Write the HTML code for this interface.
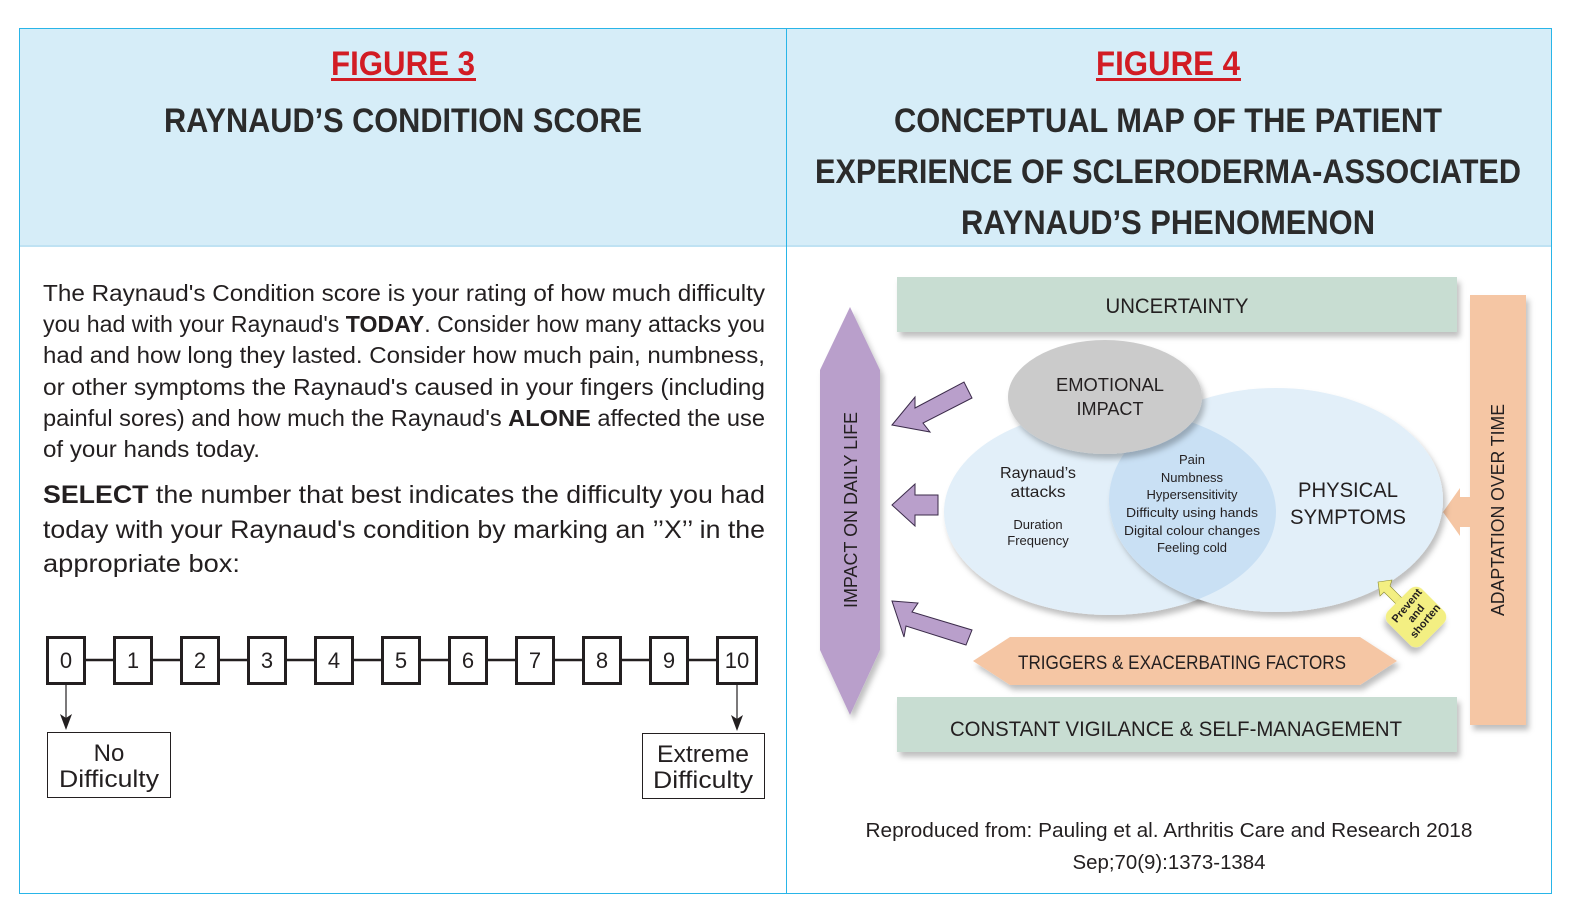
<!DOCTYPE html>
<html><head><meta charset="utf-8"><style>
html,body{margin:0;padding:0;background:#fff;overflow:hidden;width:1581px;height:910px;}
svg{display:block;}
.h{font-family:"Liberation Sans Narrow","Liberation Sans",sans-serif;font-weight:bold;}
.b{font-family:"Liberation Sans",sans-serif;fill:#231f20;}
</style></head><body>
<svg width="1581" height="910" viewBox="0 0 1581 910" xmlns="http://www.w3.org/2000/svg">
<defs>
<filter id="sh" x="-10%" y="-10%" width="130%" height="140%"><feDropShadow dx="3" dy="5" stdDeviation="3" flood-color="#000" flood-opacity="0.25"/></filter>
</defs>
<!-- panels -->
<rect x="19.5" y="28.5" width="767" height="218" fill="#d6edf8"/>
<rect x="786.5" y="28.5" width="765" height="218" fill="#d6edf8"/>
<line x1="19" y1="246" x2="1551" y2="246" stroke="#bfe2f3" stroke-width="2"/>
<rect x="19.5" y="28.5" width="1532" height="865" fill="none" stroke="#29b5e8" stroke-width="1"/>
<line x1="786.5" y1="28" x2="786.5" y2="894" stroke="#29b5e8" stroke-width="1"/>

<!-- headers -->
<text class="h" x="403" y="75" text-anchor="middle" font-size="34" fill="#d21c24" textLength="144" lengthAdjust="spacingAndGlyphs">FIGURE 3</text>
<rect x="331" y="78" width="145" height="3" fill="#d21c24"/>
<text class="h" x="403" y="132" text-anchor="middle" font-size="34" fill="#2b2b2b" textLength="478" lengthAdjust="spacingAndGlyphs">RAYNAUD’S CONDITION SCORE</text>

<text class="h" x="1168" y="75" text-anchor="middle" font-size="34" fill="#d21c24" textLength="144" lengthAdjust="spacingAndGlyphs">FIGURE 4</text>
<rect x="1096" y="78" width="145" height="3" fill="#d21c24"/>
<text class="h" x="1168" y="132" text-anchor="middle" font-size="34" fill="#2b2b2b" textLength="548" lengthAdjust="spacingAndGlyphs">CONCEPTUAL MAP OF THE PATIENT</text>
<text class="h" x="1168" y="183" text-anchor="middle" font-size="34" fill="#2b2b2b" textLength="706" lengthAdjust="spacingAndGlyphs">EXPERIENCE OF SCLERODERMA-ASSOCIATED</text>
<text class="h" x="1168" y="234" text-anchor="middle" font-size="34" fill="#2b2b2b" textLength="414" lengthAdjust="spacingAndGlyphs">RAYNAUD’S PHENOMENON</text>

<!-- left body text -->
<g class="b" font-size="23">
<text x="43" y="301" textLength="722" lengthAdjust="spacingAndGlyphs">The Raynaud's Condition score is your rating of how much difficulty</text>
<text x="43" y="332" textLength="722" lengthAdjust="spacingAndGlyphs">you had with your Raynaud's <tspan font-weight="bold">TODAY</tspan>. Consider how many attacks you</text>
<text x="43" y="363" textLength="722" lengthAdjust="spacingAndGlyphs">had and how long they lasted. Consider how much pain, numbness,</text>
<text x="43" y="395" textLength="722" lengthAdjust="spacingAndGlyphs">or other symptoms the Raynaud's caused in your fingers (including</text>
<text x="43" y="426" textLength="722" lengthAdjust="spacingAndGlyphs">painful sores) and how much the Raynaud's <tspan font-weight="bold">ALONE</tspan> affected the use</text>
<text x="43" y="457" textLength="217" lengthAdjust="spacingAndGlyphs">of your hands today.</text>
</g>
<g class="b" font-size="25">
<text x="43" y="503" textLength="722" lengthAdjust="spacingAndGlyphs"><tspan font-weight="bold">SELECT</tspan> the number that best indicates the difficulty you had</text>
<text x="43" y="538" textLength="722" lengthAdjust="spacingAndGlyphs">today with your Raynaud's condition by marking an ’’X’’ in the</text>
<text x="43" y="572" textLength="197" lengthAdjust="spacingAndGlyphs">appropriate box:</text>
</g>

<!-- scale -->
<line x1="66" y1="660" x2="737" y2="660" stroke="#231f20" stroke-width="2.5"/>
<g fill="#fff" stroke="#231f20" stroke-width="3">
<rect x="47.5" y="637.5" width="37" height="46"/>
<rect x="114.5" y="637.5" width="37" height="46"/>
<rect x="181.5" y="637.5" width="37" height="46"/>
<rect x="248.5" y="637.5" width="37" height="46"/>
<rect x="315.5" y="637.5" width="37" height="46"/>
<rect x="382.5" y="637.5" width="37" height="46"/>
<rect x="449.5" y="637.5" width="37" height="46"/>
<rect x="516.5" y="637.5" width="37" height="46"/>
<rect x="583.5" y="637.5" width="37" height="46"/>
<rect x="650.5" y="637.5" width="37" height="46"/>
<rect x="717.5" y="637.5" width="39" height="46"/>
</g>
<g class="b" font-size="22" text-anchor="middle">
<text x="66" y="668">0</text><text x="133" y="668">1</text><text x="200" y="668">2</text><text x="267" y="668">3</text><text x="334" y="668">4</text><text x="401" y="668">5</text><text x="468" y="668">6</text><text x="535" y="668">7</text><text x="602" y="668">8</text><text x="669" y="668">9</text><text x="737" y="668">10</text>
</g>
<line x1="66" y1="685" x2="66" y2="720" stroke="#231f20" stroke-width="1.2"/>
<path d="M60,714 L66,730 L72,714 L66,718 Z" fill="#231f20"/>
<line x1="737" y1="685" x2="737" y2="721" stroke="#231f20" stroke-width="1.2"/>
<path d="M731,715 L737,731 L743,715 L737,719 Z" fill="#231f20"/>
<rect x="47.5" y="732.5" width="123" height="65" fill="#fff" stroke="#231f20" stroke-width="1"/>
<rect x="642.5" y="733.5" width="122" height="65" fill="#fff" stroke="#231f20" stroke-width="1"/>
<g class="b" font-size="24" text-anchor="middle">
<text x="109" y="761">No</text><text x="109" y="787" textLength="100" lengthAdjust="spacingAndGlyphs">Difficulty</text>
<text x="703" y="762" textLength="92" lengthAdjust="spacingAndGlyphs">Extreme</text><text x="703" y="788" textLength="100" lengthAdjust="spacingAndGlyphs">Difficulty</text>
</g>

<!-- Figure 4 diagram -->
<rect x="897" y="277" width="560" height="55" fill="#c8ddd2" filter="url(#sh)"/>
<rect x="897" y="697" width="560" height="55" fill="#c8ddd2" filter="url(#sh)"/>
<rect x="1470" y="295" width="56" height="430" fill="#f5c6a4" filter="url(#sh)"/>
<polygon points="1470,497 1460,497 1460,488 1443,512 1460,536 1460,527 1470,527" fill="#f5c6a4"/>
<polygon points="850,307 880,370 880,650 850,715 820,650 820,370" fill="#b99fcb" filter="url(#sh)"/>

<ellipse cx="1110" cy="512" rx="166" ry="103" fill="#e2eff9" filter="url(#sh)"/>
<ellipse cx="1276" cy="500" rx="167" ry="112" fill="#e2eff9" filter="url(#sh)"/>
<clipPath id="cl"><ellipse cx="1110" cy="512" rx="166" ry="103"/></clipPath>
<ellipse cx="1276" cy="500" rx="167" ry="112" fill="#c9e0f4" clip-path="url(#cl)"/>
<ellipse cx="1105" cy="397" rx="97" ry="57" fill="#cbcbcb" filter="url(#sh)"/>

<!-- purple arrows -->
<g fill="#b99fcb" stroke="#3b2b4a" stroke-width="1">
<polygon points="892,425 915,397 915,408 964,382 972,398 923,423 930,432"/>
<polygon points="892,505 915,484 915,495 938,495 938,515 915,515 915,526"/>
<polygon points="892,601 918,603 912,612 972,630 966,645 906,626 904,637"/>
</g>
<!-- triggers -->
<polygon points="973,661 1010,637 1360,637 1397,661 1360,685 1010,685" fill="#f5c6a4" filter="url(#sh)"/>
<!-- yellow -->
<polygon points="1378,582 1392,580 1390,586 1402,598 1396,604 1384,592 1380,596" fill="#f3ef82" stroke="#8a8a30" stroke-width="0.6"/>
<rect x="1392" y="593" width="48" height="48" rx="9" fill="#f3ef82" transform="rotate(45 1416 617)" filter="url(#sh)"/>
<g font-family="Liberation Sans,sans-serif" font-weight="bold" font-size="11" fill="#231f20" text-anchor="middle" transform="rotate(-50 1418 615)">
<text x="1418" y="604">Prevent</text><text x="1418" y="616">and</text><text x="1418" y="628">shorten</text>
</g>

<g class="b" text-anchor="middle">
<text x="1177" y="313" font-size="21" textLength="143" lengthAdjust="spacingAndGlyphs">UNCERTAINTY</text>
<text x="1176" y="736" font-size="21" textLength="452" lengthAdjust="spacingAndGlyphs">CONSTANT VIGILANCE &amp; SELF-MANAGEMENT</text>
<text x="1182" y="669" font-size="19" textLength="328" lengthAdjust="spacingAndGlyphs">TRIGGERS &amp; EXACERBATING FACTORS</text>
<text x="1110" y="391" font-size="18" textLength="108" lengthAdjust="spacingAndGlyphs">EMOTIONAL</text>
<text x="1110" y="415" font-size="18" textLength="67" lengthAdjust="spacingAndGlyphs">IMPACT</text>
<text x="1038" y="478" font-size="16" textLength="76" lengthAdjust="spacingAndGlyphs">Raynaud’s</text>
<text x="1038" y="497" font-size="16" textLength="55" lengthAdjust="spacingAndGlyphs">attacks</text>
<text x="1038" y="529" font-size="13">Duration</text>
<text x="1038" y="545" font-size="13">Frequency</text>
<g font-size="13">
<text x="1192" y="464">Pain</text>
<text x="1192" y="482">Numbness</text>
<text x="1192" y="499">Hypersensitivity</text>
<text x="1192" y="517" textLength="132" lengthAdjust="spacingAndGlyphs">Difficulty using hands</text>
<text x="1192" y="535" textLength="136" lengthAdjust="spacingAndGlyphs">Digital colour changes</text>
<text x="1192" y="552">Feeling cold</text>
</g>
<text x="1348" y="497" font-size="21" textLength="100" lengthAdjust="spacingAndGlyphs">PHYSICAL</text>
<text x="1348" y="524" font-size="21" textLength="116" lengthAdjust="spacingAndGlyphs">SYMPTOMS</text>
<text x="0" y="0" font-size="18" transform="translate(857 510) rotate(-90)" textLength="196" lengthAdjust="spacingAndGlyphs">IMPACT ON DAILY LIFE</text>
<text x="0" y="0" font-size="18" transform="translate(1504 510) rotate(-90)" textLength="212" lengthAdjust="spacingAndGlyphs">ADAPTATION OVER TIME</text>
<text x="1169" y="837" font-size="20" textLength="607" lengthAdjust="spacingAndGlyphs">Reproduced from: Pauling et al. Arthritis Care and Research 2018</text>
<text x="1169" y="869" font-size="20" textLength="193" lengthAdjust="spacingAndGlyphs">Sep;70(9):1373-1384</text>
</g>
</svg>
</body></html>
